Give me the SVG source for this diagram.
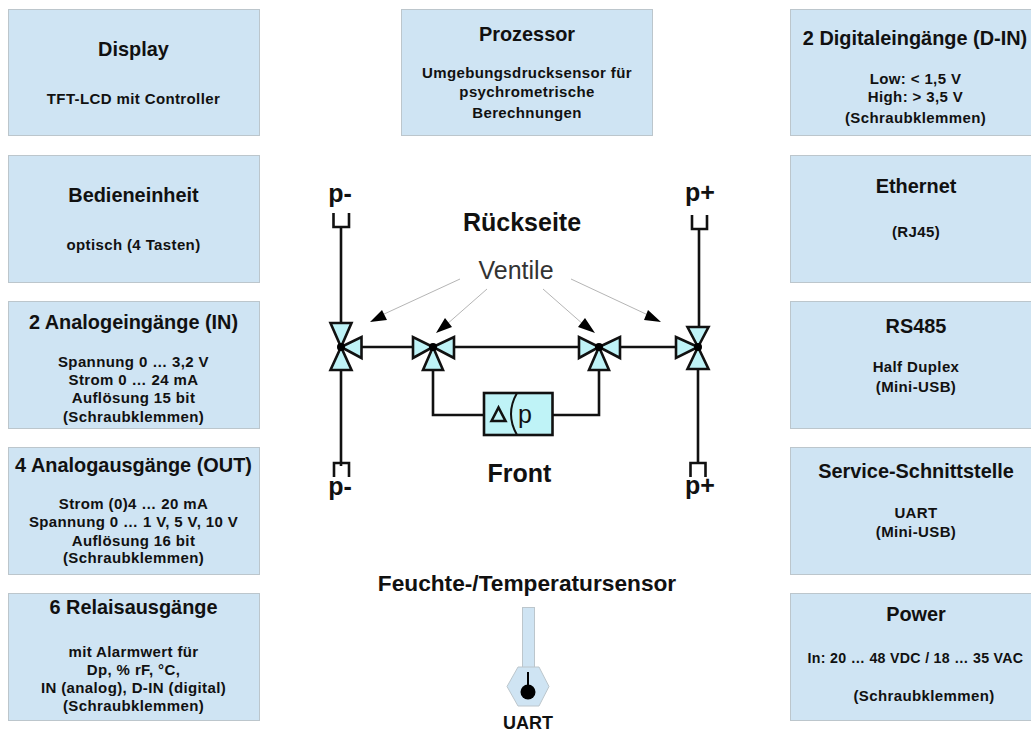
<svg xmlns="http://www.w3.org/2000/svg" width="1031" height="733" viewBox="0 0 1031 733">
<style>
text{font-family:"Liberation Sans",Arial,sans-serif;fill:#111;text-anchor:middle;font-weight:bold}
.b{fill:#cfe4f3;stroke:#bcc6cc;stroke-width:1}
.t{font-size:19.900px}
.s{font-size:15px;letter-spacing:.38px}
.h{font-size:25px}
.p{font-size:25px}
.l{fill:none;stroke:#111;stroke-width:2.600}
.v{fill:#bff3f7;stroke:#111;stroke-width:2.600;stroke-linejoin:miter}
.a{stroke:#b5b5b5;stroke-width:1;fill:none}
.ah{fill:#000}
.d{fill:#000}
</style>
<g id="display"><rect class="b" x="8.500" y="9.500" width="251" height="126"/><text class="t" x="133.500" y="56">Display</text><text class="s" x="133.500" y="104">TFT-LCD mit Controller</text></g>
<g id="bedieneinheit"><rect class="b" x="8.500" y="155.500" width="251" height="127"/><text class="t" x="133.500" y="202">Bedieneinheit</text><text class="s" x="133.500" y="250">optisch (4 Tasten)</text></g>
<g id="analogein"><rect class="b" x="8.500" y="301.500" width="251" height="127"/><text class="t" x="133.500" y="329">2 Analogeingänge (IN)</text><text class="s" x="133.500" y="367">Spannung 0 … 3,2 V</text><text class="s" x="133.500" y="385">Strom 0 … 24 mA</text><text class="s" x="133.500" y="403">Auflösung 15 bit</text><text class="s" x="133.500" y="422">(Schraubklemmen)</text></g>
<g id="analogaus"><rect class="b" x="8.500" y="447.500" width="251" height="127"/><text class="t" x="133.500" y="472">4 Analogausgänge (OUT)</text><text class="s" x="133.500" y="509">Strom (0)4 … 20 mA</text><text class="s" x="133.500" y="527">Spannung 0 … 1 V, 5 V, 10 V</text><text class="s" x="133.500" y="546">Auflösung 16 bit</text><text class="s" x="133.500" y="563">(Schraubklemmen)</text></g>
<g id="relais"><rect class="b" x="8.500" y="593.500" width="251" height="127"/><text class="t" x="133.500" y="614">6 Relaisausgänge</text><text class="s" x="133.500" y="657">mit Alarmwert für</text><text class="s" x="133.500" y="675">Dp, % rF, °C,</text><text class="s" x="133.500" y="693">IN (analog), D-IN (digital)</text><text class="s" x="133.500" y="711">(Schraubklemmen)</text></g>
<g id="prozessor"><rect class="b" x="401.500" y="9.500" width="251" height="126"/><text class="t" x="527" y="41">Prozessor</text><text class="s" x="527" y="78">Umgebungsdrucksensor für</text><text class="s" x="527" y="97">psychrometrische</text><text class="s" x="527" y="118">Berechnungen</text></g>
<g id="digital"><rect class="b" x="790.500" y="9.500" width="251" height="126"/><text class="t" x="915" y="45">2 Digitaleingänge (D-IN)</text><text class="s" x="915.500" y="84">Low: &lt; 1,5 V</text><text class="s" x="915.500" y="102">High: &gt; 3,5 V</text><text class="s" x="915.500" y="123">(Schraubklemmen)</text></g>
<g id="ethernet"><rect class="b" x="790.500" y="155.500" width="251" height="127"/><text class="t" x="916" y="193">Ethernet</text><text class="s" x="916" y="237">(RJ45)</text></g>
<g id="rs485"><rect class="b" x="790.500" y="301.500" width="251" height="127"/><text class="t" x="916" y="333">RS485</text><text class="s" x="916" y="372">Half Duplex</text><text class="s" x="916" y="392">(Mini-USB)</text></g>
<g id="service"><rect class="b" x="790.500" y="447.500" width="251" height="127"/><text class="t" x="916" y="478">Service-Schnittstelle</text><text class="s" x="916" y="518">UART</text><text class="s" x="916" y="537">(Mini-USB)</text></g>
<g id="power"><rect class="b" x="790.500" y="593.500" width="251" height="127"/><text class="t" x="916" y="621">Power</text><text class="s" x="915.500" y="663" style="font-size:14.200px;letter-spacing:.3px">In: 20 … 48 VDC / 18 … 35 VAC</text><text class="s" x="924" y="701">(Schraubklemmen)</text></g>
<g id="connectors">
<path class="l" d="M341 226V323M341 370V466M358 347H412M455 347H578M621 347H675M699 228V327M698 370V464M433 370V415H484M599 370V415H552"/>
<path class="l" d="M333.500 213V227H349V213M334 477V463H349V477M692 215V229H707V215M690.500 477V463H705.500V477"/>
<path class="a" d="M460 279L382 315M487 289L446 325M543 289L584 325M571 279L648 315"/>
<path class="ah" d="M370 322L382 310L387 320ZM436 333L445 318L452 327ZM595 333L585 318L578 327ZM661 322L648 310L644 320Z"/>
</g>
<g id="ventil1"><path class="v" d="M341 347L330.500 323H351.500ZM341 347L330.500 370H351.500ZM341 347L361.500 337V358Z"/><circle class="d" cx="341" cy="347" r="4"/></g>
<g id="ventil2"><path class="v" d="M433 347L413 337V358ZM433 347L454 337V358ZM433 347L423 370H443Z"/><circle class="d" cx="433" cy="347" r="4"/></g>
<g id="ventil3"><path class="v" d="M599 347L579 337V358ZM599 347L620 337V358ZM599 347L589 370H609Z"/><circle class="d" cx="599" cy="347" r="4"/></g>
<g id="ventil4"><path class="v" d="M698 347L687.500 327H708.500ZM698 347L687.500 369H708.500ZM698 347L676 337V358Z"/><circle class="d" cx="698" cy="347" r="4"/></g>
<g id="dp"><rect class="v" x="484" y="393" width="68.500" height="42"/><path class="l" d="M517 393Q505 414 517 435" style="stroke-width:2"/><path fill="none" stroke="#111" stroke-width="2.600" d="M491.500 421L498.500 407.500L505.500 421Z"/><text x="525" y="423" style="font-size:25px;font-weight:normal">p</text></g>
<g id="labels">
<text class="p" x="340" y="202">p-</text><text class="p" x="340" y="495">p-</text><text class="p" x="700" y="201">p+</text><text class="p" x="700" y="494">p+</text>
<text class="h" x="522" y="231">Rückseite</text><text x="516" y="279" style="font-size:25px;font-weight:normal;fill:#333">Ventile</text><text class="h" x="519.500" y="482">Front</text>
<text x="527" y="591" style="font-size:22.700px">Feuchte-/Temperatursensor</text>
</g>
<g id="sensor"><rect x="522.500" y="607.500" width="12" height="60" fill="#cfe4f3" stroke="#bcc6cc"/><path d="M518 667H539L549 686.500L539 706H518L507 686.500Z" fill="#cfe4f3" stroke="#bcc6cc"/><path d="M528 672V690" stroke="#000" stroke-width="2"/><circle class="d" cx="528" cy="692" r="7.500"/><text x="528" y="729" style="font-size:18px">UART</text></g>
</svg>
